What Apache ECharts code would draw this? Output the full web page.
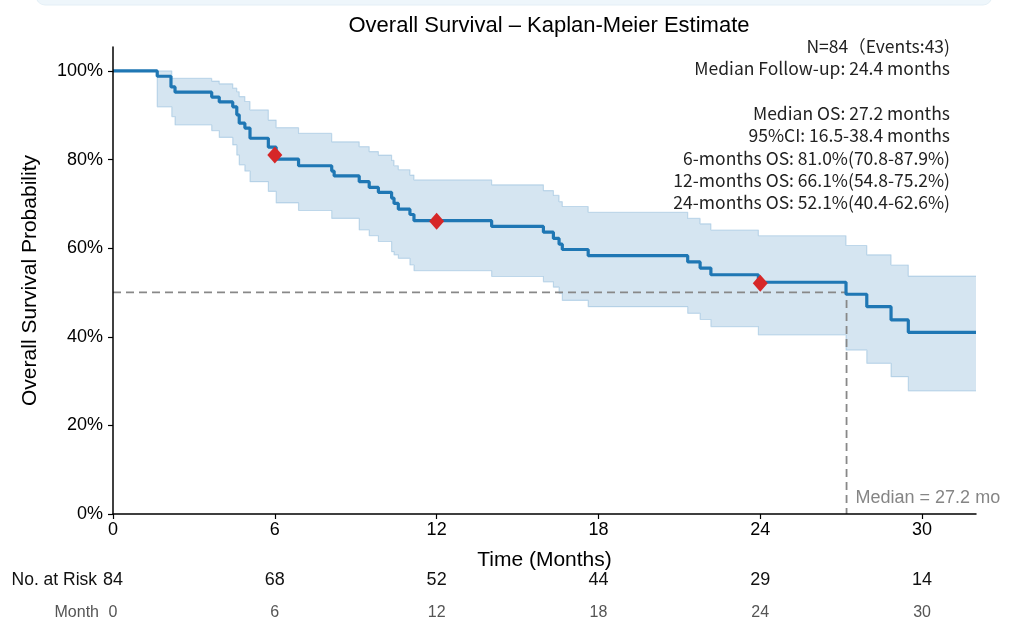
<!DOCTYPE html>
<html>
<head>
<meta charset="utf-8">
<script src="https://cdn.jsdelivr.net/npm/echarts@6/dist/echarts.min.js"></script>
<style>html,body{margin:0;padding:0;background:#fff;}#c{width:1012px;height:628px;}</style>
</head>
<body>
<div id="c"></div>
<script>
// ---- Data ----
const kmTimes = [0, 1.64, 2.15, 2.3, 3.66, 3.94, 4.44, 4.59, 4.68, 4.89, 5.08, 5.76, 6.05, 6.88, 8.11, 8.2, 9.13, 9.5, 9.84, 10.33, 10.42, 10.58, 11.01, 11.16, 14.04, 15.96, 16.33, 16.54, 16.66, 17.62, 21.31, 21.77, 22.17, 23.93, 27.18, 27.95, 28.85, 29.49, 32];
const kmSurv  = [100, 98.8, 96.4, 95.2, 94.1, 93.0, 91.9, 90.1, 88.2, 87.1, 84.8, 82.8, 80.1, 78.6, 77.4, 76.3, 75.0, 73.7, 72.6, 71.3, 70.1, 68.8, 67.6, 66.2, 64.9, 63.6, 62.2, 60.9, 59.7, 58.3, 56.9, 55.5, 54.0, 52.3, 49.6, 46.8, 43.8, 41.0, 41.0];

const ciTimes = [0, 1.64, 2.18, 2.3, 3.66, 3.94, 4.44, 4.59, 4.68, 4.89, 5.08, 5.76, 6.05, 6.88, 8.11, 9.13, 9.5, 9.84, 10.33, 10.42, 10.58, 11.01, 11.16, 14.04, 15.96, 16.33, 16.54, 16.66, 17.62, 21.31, 21.77, 22.17, 23.93, 27.18, 27.95, 28.85, 29.49, 32];
const ciUpper = [100, 100, 98.3, 98.3, 97.7, 97.1, 96.1, 95.3, 94.2, 93.1, 91.2, 88.9, 87.2, 85.9, 84.0, 82.9, 81.8, 81.0, 79.8, 78.6, 77.7, 76.5, 75.4, 74.3, 73.0, 71.9, 70.5, 69.4, 68.1, 66.7, 65.5, 64.1, 62.8, 60.6, 58.5, 56.2, 53.7, 53.7];
const ciLower = [100, 91.9, 89.7, 87.8, 86.5, 85.0, 83.3, 81.0, 78.8, 77.4, 75.0, 72.8, 70.2, 68.5, 66.7, 64.1, 62.8, 61.5, 59.2, 58.5, 57.7, 56.2, 54.9, 53.6, 52.4, 51.2, 49.8, 48.2, 46.8, 45.3, 43.9, 42.3, 40.4, 37.0, 34.0, 31.0, 27.8, 27.8];

const landmarkTimes = [6, 12, 24];
const landmarkSurv  = [81.0, 66.1, 52.1];

const medianOS = 27.2;
const medianPath = [[0, 50], [27.2, 50], [27.2, 0]];

const xTicks = [0, 6, 12, 18, 24, 30];
const yTicks = [0, 20, 40, 60, 80, 100];
const atRisk = [84, 68, 52, 44, 29, 14];

const titleText = 'Overall Survival – Kaplan-Meier Estimate';
const statsLines = [
  'N=84（Events:43)',
  'Median Follow-up: 24.4 months',
  '',
  'Median OS: 27.2 months',
  '95%CI: 16.5-38.4 months',
  '6-months OS: 81.0%(70.8-87.9%)',
  '12-months OS: 66.1%(54.8-75.2%)',
  '24-months OS: 52.1%(40.4-62.6%)'
];

// ---- Build ----
const kmData = kmTimes.map((t, i) => [t, kmSurv[i]]);
const lowData = ciTimes.map((t, i) => [t, ciLower[i]]);
const upData = ciTimes.map((t, i) => [t, ciUpper[i]]);
const lmData = landmarkTimes.map((t, i) => [t, landmarkSurv[i]]);

const FONT = '"Liberation Sans", Arial, sans-serif';
const chart = echarts.init(document.getElementById('c'), null, {renderer: 'canvas'});

const axisBlack = {lineStyle: {color: '#000', width: 1.5}};
const edgeColor = 'rgba(31,119,180,0.22)';

const statsGraphics = statsLines.map((s, i) => ({
  type: 'text', x: 950, y: 46 + i * 22.4, z: 10,
  style: {text: s, align: 'right', verticalAlign: 'middle',
    font: '17.5px "Noto Sans CJK SC", "Noto Sans", sans-serif', fill: '#222'}
}));

chart.setOption({
  animation: false,
  textStyle: {fontFamily: FONT},
  title: {
    text: titleText, left: 544, top: 10, textAlign: 'center',
    textStyle: {fontSize: 22, fontWeight: 'normal', color: '#000', fontFamily: FONT}
  },
  grid: {left: 113, right: 36, top: 47, bottom: 114, containLabel: false},
  xAxis: [
    {
      type: 'value', min: 0, max: 32, z: 20,
      axisLine: axisBlack,
      axisTick: {show: true, length: 5, lineStyle: {color: '#000', width: 1.2}, customValues: xTicks},
      axisLabel: {customValues: xTicks, fontSize: 18, color: '#000', margin: 7},
      splitLine: {show: false},
      name: 'Time (Months)', nameLocation: 'middle', nameGap: 36,
      nameTextStyle: {fontSize: 21, color: '#000'}
    },
    {
      type: 'value', min: 0, max: 32, position: 'bottom', offset: 66,
      axisLine: {show: false}, axisTick: {show: false}, splitLine: {show: false},
      axisLabel: {customValues: xTicks, fontSize: 18, color: '#111', margin: 0, verticalAlign: 'middle',
        formatter: v => { const i = xTicks.indexOf(v); return i >= 0 ? String(atRisk[i]) : ''; }},
      name: 'No. at Risk', nameLocation: 'start', nameGap: 12,
      nameTextStyle: {fontSize: 17.5, color: '#111', verticalAlign: 'middle'}
    },
    {
      type: 'value', min: 0, max: 32, position: 'bottom', offset: 99,
      axisLine: {show: false}, axisTick: {show: false}, splitLine: {show: false},
      axisLabel: {customValues: xTicks, fontSize: 16, color: '#555', margin: 0, verticalAlign: 'middle'},
      name: 'Month', nameLocation: 'start', nameGap: 14,
      nameTextStyle: {fontSize: 16, color: '#555', verticalAlign: 'middle'}
    }
  ],
  yAxis: {
    type: 'value', min: 0, max: 105.4, z: 20,
    axisLine: axisBlack,
    axisTick: {show: true, length: 5, lineStyle: {color: '#000', width: 1.2}, customValues: yTicks},
    axisLabel: {customValues: yTicks, fontSize: 18, color: '#000', margin: 10, formatter: '{value}%'},
    splitLine: {show: false},
    name: 'Overall Survival Probability', nameLocation: 'middle', nameGap: 72, nameRotate: 90,
    nameTextStyle: {fontSize: 21, color: '#000'}
  },
  series: [
    {
      type: 'line', data: upData, step: 'end', showSymbol: false, silent: true,
      lineStyle: {color: edgeColor, width: 1.2},
      areaStyle: {color: 'rgba(31,119,180,0.19)', opacity: 1, origin: 'start'}, z: 1
    },
    {
      type: 'line', data: lowData, step: 'end', showSymbol: false, silent: true,
      lineStyle: {color: edgeColor, width: 1.2},
      areaStyle: {color: '#ffffff', opacity: 1, origin: 'start'}, z: 2
    },
    {
      type: 'line', data: medianPath, showSymbol: false, silent: true,
      lineStyle: {color: '#888', width: 1.8, type: [8, 5]}, z: 3
    },
    {
      type: 'line', data: kmData, step: 'end', showSymbol: false,
      lineStyle: {color: '#1f77b4', width: 3.2}, z: 4
    },
    {
      type: 'scatter', data: lmData, symbol: 'diamond', symbolSize: [15, 17],
      itemStyle: {color: '#d62728', opacity: 1}, z: 5
    },
    {
      type: 'scatter', data: [[medianOS, 0]], symbolSize: 0, silent: true, z: 5,
      label: {show: true, position: 'right', distance: 0, offset: [9, -16],
        formatter: 'Median = ' + medianOS + ' mo', fontSize: 18, color: '#666', fontFamily: FONT}
    }
  ],
  graphic: [
    {
      type: 'rect', shape: {x: 36, y: -14, width: 956, height: 19, r: 9},
      style: {fill: '#eef6fb', stroke: '#e4eff6'}, silent: true
    }
  ].concat(statsGraphics)
});
</script>
</body>
</html>
